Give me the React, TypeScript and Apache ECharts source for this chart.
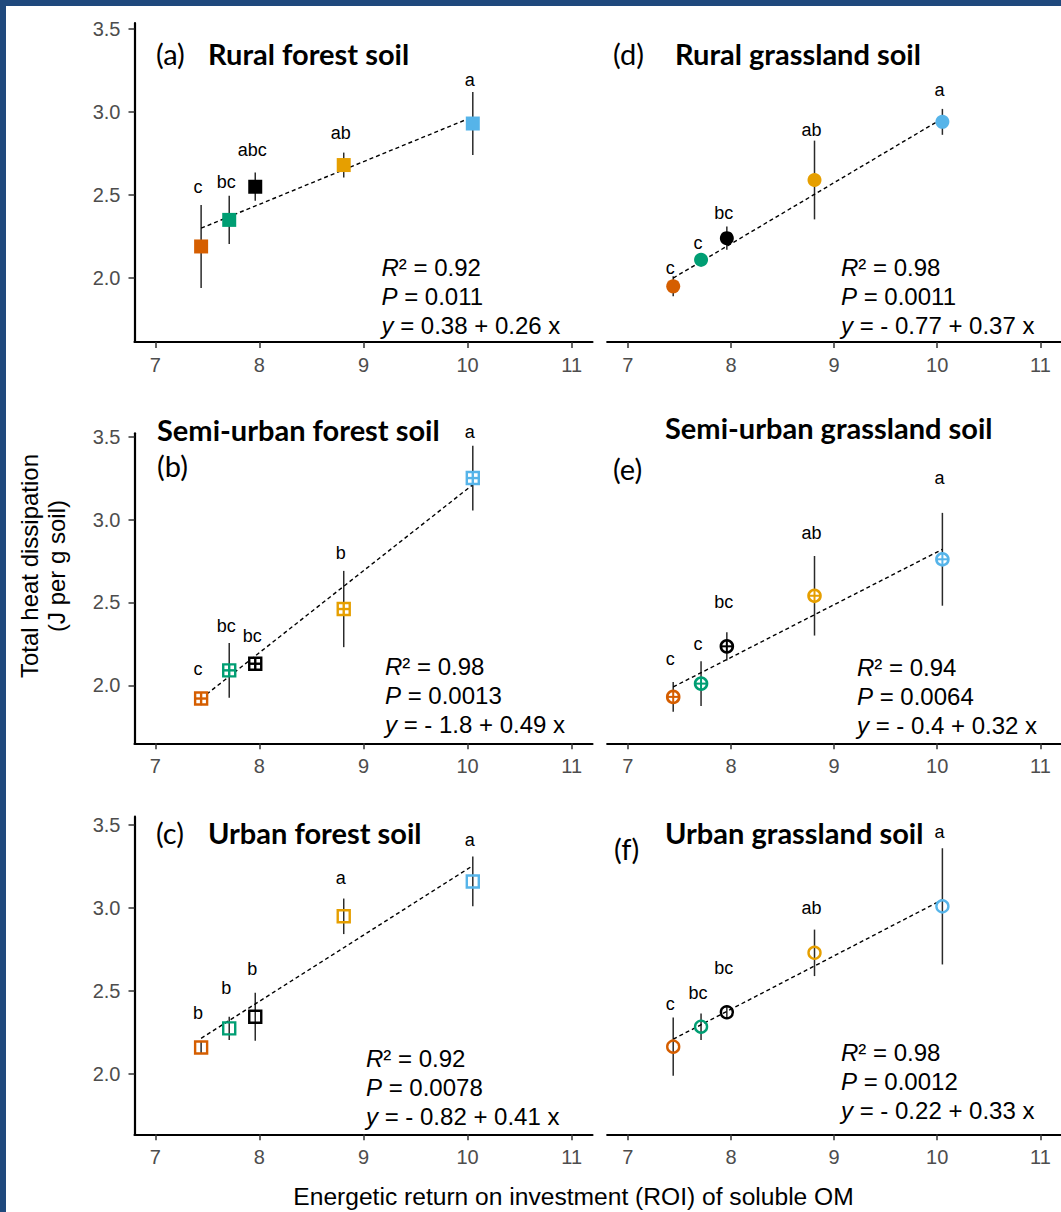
import React, { useEffect, useRef } from "react";
import * as echarts from "echarts";

const FONT = '"Liberation Sans", Arial, sans-serif';
const TFONT = 'Lato, "Open Sans", sans-serif';

// ---------- data ----------
const roi = [7.44, 7.71, 7.96, 8.81, 10.05];
const siteColors = ["#D55E00", "#009E73", "#000000", "#E69F00", "#56B4E9"];
const xTicks = [7, 8, 9, 10, 11];
const yTicks = [2.0, 2.5, 3.0, 3.5];

// (a) Rural forest soil
const heatA = [2.19, 2.35, 2.55, 2.68, 2.93];
const errA = [0.25, 0.145, 0.085, 0.075, 0.19];
const lettersA = ["c", "bc", "abc", "ab", "a"];
const letterYA = [2.55, 2.58, 2.77, 2.87, 3.19];
const fitA = [[7.44, 2.3], [10.05, 2.97]];
const statsA = ["0.92", "0.011", "0.38 + 0.26 x"];

// (b) Semi-urban forest soil
const heatB = [1.92, 2.09, 2.13, 2.46, 3.25];
const errB = [0.04, 0.165, 0.03, 0.23, 0.195];
const lettersB = ["c", "bc", "bc", "b", "a"];
const letterYB = [2.1, 2.36, 2.3, 2.8, 3.53];
const fitB = [[7.44, 1.92], [10.05, 3.21]];
const statsB = ["0.98", "0.0013", "- 1.8 + 0.49 x"];

// (c) Urban forest soil
const heatC = [2.16, 2.275, 2.345, 2.95, 3.16];
const errC = [0.035, 0.07, 0.145, 0.107, 0.15];
const lettersC = ["b", "b", "b", "a", "a"];
const letterYC = [2.37, 2.52, 2.63, 3.18, 3.41];
const fitC = [[7.44, 2.215], [10.05, 3.255]];
const statsC = ["0.92", "0.0078", "- 0.82 + 0.41 x"];

// (d) Rural grassland soil
const heatD = [1.95, 2.11, 2.24, 2.59, 2.94];
const errD = [0.06, 0.04, 0.07, 0.237, 0.078];
const lettersD = ["c", "c", "bc", "ab", "a"];
const letterYD = [2.06, 2.21, 2.39, 2.89, 3.13];
const fitD = [[7.44, 2.0], [10.05, 2.96]];
const statsD = ["0.98", "0.0011", "- 0.77 + 0.37 x"];

// (e) Semi-urban grassland soil
const heatE = [1.93, 2.01, 2.235, 2.54, 2.76];
const errE = [0.09, 0.135, 0.085, 0.24, 0.28];
const lettersE = ["c", "c", "bc", "ab", "a"];
const letterYE = [2.16, 2.25, 2.5, 2.92, 3.25];
const fitE = [[7.44, 1.99], [10.05, 2.82]];
const statsE = ["0.94", "0.0064", "- 0.4 + 0.32 x"];

// (f) Urban grassland soil
const heatF = [2.165, 2.285, 2.372, 2.73, 3.01];
const errF = [0.175, 0.08, 0.04, 0.14, 0.35];
const lettersF = ["c", "bc", "bc", "ab", "a"];
const letterYF = [2.42, 2.49, 2.64, 3.0, 3.46];
const fitF = [[7.44, 2.21], [10.05, 3.05]];
const statsF = ["0.98", "0.0012", "- 0.22 + 0.33 x"];

// ---------- layout ----------
const X_MIN = 6.8;
const X_MAX = 11.2;
const rows = [
  { top: 23, height: 319, min: 1.615, max: 3.535 },
  { top: 433.3, height: 310, min: 1.65, max: 3.52 },
  { top: 816.7, height: 317.6, min: 1.637, max: 3.55 },
];
const cols = [
  { left: 134.5, width: 458, showY: true },
  { left: 607.2, width: 458.5, showY: false },
];

const panels = [
  { row: 0, col: 0, marker: "squareFilled", heat: heatA, err: errA, letters: lettersA, letterY: letterYA, fit: fitA, stats: statsA,
    tag: "(a)", title: "Rural forest soil", tagPos: [156, 53], titlePos: [208, 53], statsPos: [381.5, 267.5] },
  { row: 1, col: 0, marker: "squarePlus", heat: heatB, err: errB, letters: lettersB, letterY: letterYB, fit: fitB, stats: statsB,
    tag: "(b)", title: "Semi-urban forest soil", tagPos: [157, 465], titlePos: [157, 429], statsPos: [385, 666] },
  { row: 2, col: 0, marker: "squareOpen", heat: heatC, err: errC, letters: lettersC, letterY: letterYC, fit: fitC, stats: statsC,
    tag: "(c)", title: "Urban forest soil", tagPos: [156, 832], titlePos: [208, 832], statsPos: [366, 1058] },
  { row: 0, col: 1, marker: "circleFilled", heat: heatD, err: errD, letters: lettersD, letterY: letterYD, fit: fitD, stats: statsD,
    tag: "(d)", title: "Rural grassland soil", tagPos: [613, 53], titlePos: [675, 53], statsPos: [841, 267] },
  { row: 1, col: 1, marker: "circlePlus", heat: heatE, err: errE, letters: lettersE, letterY: letterYE, fit: fitE, stats: statsE,
    tag: "(e)", title: "Semi-urban grassland soil", tagPos: [613, 468], titlePos: [665, 427], statsPos: [857, 667] },
  { row: 2, col: 1, marker: "circleOpen", heat: heatF, err: errF, letters: lettersF, letterY: letterYF, fit: fitF, stats: statsF,
    tag: "(f)", title: "Urban grassland soil", tagPos: [614, 848], titlePos: [665, 832], statsPos: [841, 1052] },
];

function markerRender(kind: string) {
  return (params: any, api: any) => {
    const p = api.coord([api.value(0), api.value(1)]);
    const c = siteColors[params.dataIndex];
    const x = p[0], y = p[1];
    const lw = 2.4;
    switch (kind) {
      case "squareFilled":
        return { type: "rect", shape: { x: x - 7, y: y - 7, width: 14, height: 14 }, style: { fill: c } };
      case "circleFilled":
        return { type: "circle", shape: { cx: x, cy: y, r: 7 }, style: { fill: c } };
      case "squareOpen":
        return { type: "rect", shape: { x: x - 6, y: y - 6, width: 12, height: 12 }, style: { fill: "none", stroke: c, lineWidth: lw } };
      case "circleOpen":
        return { type: "circle", shape: { cx: x, cy: y, r: 6 }, style: { fill: "none", stroke: c, lineWidth: lw } };
      case "squarePlus":
        return {
          type: "group",
          children: [
            { type: "rect", shape: { x: x - 6, y: y - 6, width: 12, height: 12 }, style: { fill: "#fff", stroke: c, lineWidth: lw } },
            { type: "line", shape: { x1: x - 6, y1: y, x2: x + 6, y2: y }, style: { stroke: c, lineWidth: lw } },
            { type: "line", shape: { x1: x, y1: y - 6, x2: x, y2: y + 6 }, style: { stroke: c, lineWidth: lw } },
          ],
        };
      case "circlePlus":
      default:
        return {
          type: "group",
          children: [
            { type: "circle", shape: { cx: x, cy: y, r: 6 }, style: { fill: "#fff", stroke: c, lineWidth: 2.6 } },
            { type: "line", shape: { x1: x - 6, y1: y, x2: x + 6, y2: y }, style: { stroke: c, lineWidth: 2 } },
            { type: "line", shape: { x1: x, y1: y - 6, x2: x, y2: y + 6 }, style: { stroke: c, lineWidth: 2 } },
          ],
        };
    }
  };
}

function errRender(params: any, api: any) {
  const x = api.value(0), y = api.value(1), e = api.value(2);
  const a = api.coord([x, y - e]);
  const b = api.coord([x, y + e]);
  return { type: "line", shape: { x1: a[0], y1: a[1], x2: b[0], y2: b[1] }, style: { stroke: "#2a2a2a", lineWidth: 1.5 } };
}

function letterRender(letters: string[]) {
  return (params: any, api: any) => {
    const p = api.coord([api.value(0), api.value(1)]);
    return {
      type: "text",
      x: p[0] - 3,
      y: p[1],
      style: { text: letters[params.dataIndex], fill: "#000", font: `18px ${FONT}`, align: "center", verticalAlign: "middle" },
    };
  };
}

// tick labels placed through the axis scale
function xTickLabelRender(params: any, api: any) {
  const v = api.value(0);
  const p = api.coord([v, api.value(1)]);
  return {
    type: "text", x: p[0], y: p[1] + 23,
    style: { text: String(v), fill: "#4d4d4d", font: `20px ${FONT}`, align: "center", verticalAlign: "middle" },
  };
}
function yTickLabelRender(params: any, api: any) {
  const v = api.value(1);
  const p = api.coord([api.value(0), v]);
  return {
    type: "text", x: p[0] - 14, y: p[1],
    style: { text: v.toFixed(1), fill: "#4d4d4d", font: `20px ${FONT}`, align: "right", verticalAlign: "middle" },
  };
}

function buildOption() {
  const grid: any[] = [];
  const xAxis: any[] = [];
  const yAxis: any[] = [];
  const series: any[] = [];
  const graphic: any[] = [];

  panels.forEach((pn, i) => {
    const r = rows[pn.row];
    const c = cols[pn.col];
    grid.push({ left: c.left, top: r.top, width: c.width, height: r.height, containLabel: false });
    xAxis.push({
      gridIndex: i, type: "value", min: X_MIN, max: X_MAX,
      axisLine: { show: true, lineStyle: { color: "#000", width: 2.2 } },
      axisTick: { show: true, length: 6, customValues: xTicks, lineStyle: { color: "#333", width: 1.5 } },
      axisLabel: { show: false },
      splitLine: { show: false },
    });
    yAxis.push({
      gridIndex: i, type: "value", min: r.min, max: r.max,
      axisLine: { show: c.showY, onZero: false, lineStyle: { color: "#000", width: 2.2 } },
      axisTick: { show: c.showY, length: 6, customValues: yTicks, lineStyle: { color: "#333", width: 1.5 } },
      axisLabel: { show: false },
      splitLine: { show: false },
    });
    series.push({
      type: "custom", xAxisIndex: i, yAxisIndex: i, z: 1, silent: true,
      data: roi.map((x, k) => [x, pn.heat[k], pn.err[k]]),
      renderItem: errRender,
    });
    series.push({
      type: "line", xAxisIndex: i, yAxisIndex: i, z: 2, silent: true, symbol: "none",
      data: pn.fit,
      lineStyle: { color: "#000", width: 1.4, type: [4, 3] },
    });
    series.push({
      type: "custom", xAxisIndex: i, yAxisIndex: i, z: 3, silent: true,
      data: roi.map((x, k) => [x, pn.heat[k]]),
      renderItem: markerRender(pn.marker),
    });
    series.push({
      type: "custom", xAxisIndex: i, yAxisIndex: i, z: 4, silent: true,
      data: roi.map((x, k) => [x, pn.letterY[k]]),
      renderItem: letterRender(pn.letters),
    });
    series.push({
      type: "custom", xAxisIndex: i, yAxisIndex: i, z: 5, silent: true, clip: false,
      data: xTicks.map((v) => [v, r.min]),
      renderItem: xTickLabelRender,
    });
    if (c.showY) {
      series.push({
        type: "custom", xAxisIndex: i, yAxisIndex: i, z: 5, silent: true, clip: false,
        data: yTicks.map((v) => [X_MIN, v]),
        renderItem: yTickLabelRender,
      });
    }

    graphic.push({
      type: "text", x: pn.tagPos[0], y: pn.tagPos[1], silent: true,
      style: { text: pn.tag, font: `29px ${TFONT}`, fill: "#000", verticalAlign: "middle" },
    });
    graphic.push({
      type: "text", x: pn.titlePos[0], y: pn.titlePos[1], silent: true,
      style: { text: pn.title, font: `bold 29px ${TFONT}`, fill: "#000", verticalAlign: "middle" },
    });
    const lines = [
      `{i|R}² = ${pn.stats[0]}`,
      `{i|P} = ${pn.stats[1]}`,
      `{i|y} = ${pn.stats[2]}`,
    ];
    lines.forEach((t, k) => {
      graphic.push({
        type: "text", x: pn.statsPos[0], y: pn.statsPos[1] + k * 29, silent: true,
        style: {
          text: t, fill: "#000", fontSize: 24, fontFamily: FONT, verticalAlign: "middle",
          rich: { i: { fontStyle: "italic", fontSize: 24, fontFamily: FONT, fill: "#000" } },
        },
      });
    });
  });

  graphic.push({
    type: "text", x: 42.5, y: 566, rotation: Math.PI / 2, silent: true,
    style: { text: "Total heat dissipation\n(J per g soil)", fill: "#000", fontSize: 24, fontFamily: FONT,
      lineHeight: 27, align: "center", verticalAlign: "middle" },
  });
  graphic.push({
    type: "text", x: 573.5, y: 1196, silent: true,
    style: { text: "Energetic return on investment (ROI) of soluble OM", fill: "#000", fontSize: 24.6, fontFamily: FONT,
      align: "center", verticalAlign: "middle" },
  });
  graphic.push({ type: "rect", shape: { x: 0, y: 0, width: 1061, height: 6 }, style: { fill: "#1F497D" }, silent: true });
  graphic.push({ type: "rect", shape: { x: 0, y: 0, width: 6, height: 1212 }, style: { fill: "#1F497D" }, silent: true });

  return { animation: false, backgroundColor: "#fff", textStyle: { fontFamily: FONT }, grid, xAxis, yAxis, series, graphic };
}

export default function App() {
  const ref = useRef<HTMLDivElement>(null);
  useEffect(() => {
    if (!ref.current) return;
    const chart = echarts.init(ref.current, undefined, { renderer: "svg" });
    chart.setOption(buildOption() as any);
    return () => chart.dispose();
  }, []);
  return (
    <div
      ref={ref}
      style={{ position: "absolute", left: 0, top: 0, width: 1061, height: 1212, overflow: "hidden", background: "#fff" }}
    />
  );
}
